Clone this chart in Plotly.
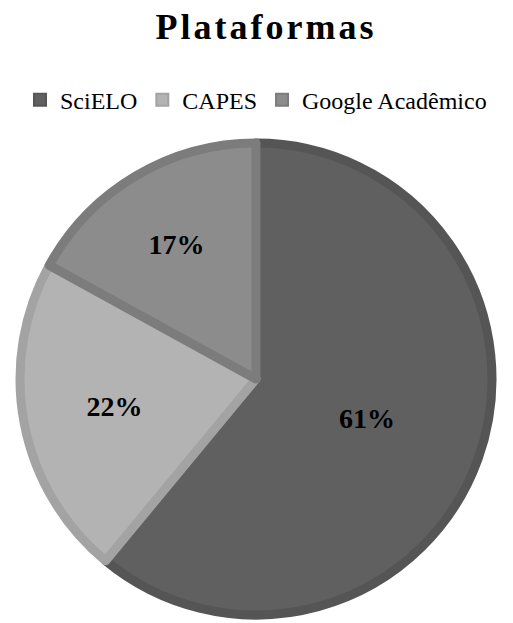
import plotly.graph_objects as go

labels = ["SciELO", "CAPES", "Google Acadêmico"]
values = [61, 22, 17]
text_labels = ["<b>61%</b>", "<b>22%</b>", "<b>17%</b>"]
fill_colors = ["#606060", "#b3b3b3", "#8c8c8c"]
edge_colors = ["#555555", "#a3a3a3", "#7c7c7c"]

fig = go.Figure(go.Pie(
    labels=labels,
    values=values,
    text=text_labels,
    textinfo="text",
    textposition="inside",
    insidetextorientation="horizontal",
    sort=False,
    direction="clockwise",
    rotation=0,
    marker=dict(colors=fill_colors, line=dict(color=edge_colors, width=9)),
    textfont=dict(family="Liberation Serif", size=28, color="#000000"),
    hoverinfo="label+percent",
))

fig.update_layout(
    width=513,
    height=623,
    paper_bgcolor="white",
    plot_bgcolor="white",
    margin=dict(l=9, r=26, t=135, b=16),
    title=dict(
        text="<b>P l a t a f o r m a s</b>".replace(" ", "&#8202;"),
        x=0.5, xanchor="center",
        y=0.97, yanchor="middle",
        font=dict(family="Liberation Serif", size=36, color="#000000"),
    ),
    legend=dict(
        orientation="h",
        x=0.5, xanchor="center",
        y=0.852, yref="container", yanchor="middle",
        font=dict(family="Liberation Serif", size=24, color="#000000"),
        itemsizing="constant",
        tracegroupgap=0,
    ),
    showlegend=True,
)

fig.write_html("out.html")
